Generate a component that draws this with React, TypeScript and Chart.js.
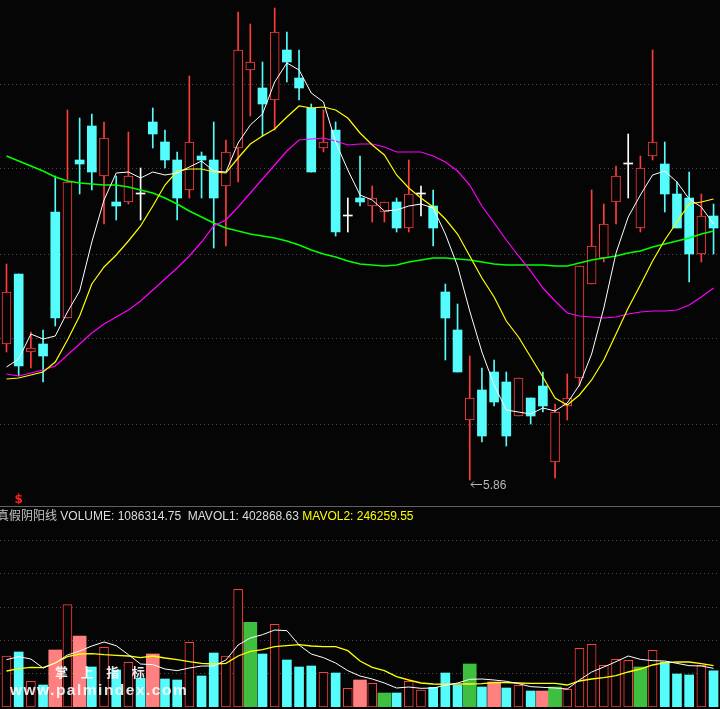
import React, { useEffect, useRef } from "react";
import { Chart, registerables } from "chart.js";

Chart.register(...registerables);

// ---------- price panel data (59 trading days) ----------
const opens = [6.54, 6.89, 6.5, 6.54, 7.2, 6.67, 7.46, 7.63, 7.38, 7.25, 7.25, 7.29, 7.65, 7.55, 7.46, 7.31, 7.48, 7.46, 7.33, 7.52, 7.91, 7.82, 7.76, 8.01, 7.87, 7.72, 7.52, 7.61, 7.18, 7.27, 7.23, 7.2, 7.25, 7.12, 7.29, 7.23, 6.8, 6.61, 6.16, 6.31, 6.4, 6.35, 6.18, 6.27, 6.33, 5.95, 6.23, 6.37, 6.84, 6.97, 7.25, 7.44, 7.12, 7.48, 7.44, 7.29, 7.27, 6.99, 7.18];
const highs = [6.94, 6.89, 6.6, 6.61, 7.38, 7.71, 7.67, 7.69, 7.65, 7.38, 7.6, 7.42, 7.72, 7.61, 7.5, 7.88, 7.5, 7.65, 7.56, 8.2, 8.14, 7.95, 8.22, 8.1, 8.01, 7.74, 7.71, 7.65, 7.27, 7.48, 7.33, 7.25, 7.27, 7.46, 7.33, 7.31, 6.84, 6.74, 6.48, 6.42, 6.46, 6.4, 6.37, 6.27, 6.4, 6.24, 6.39, 6.93, 7.31, 7.24, 7.43, 7.59, 7.48, 8.01, 7.55, 7.35, 7.4, 7.29, 7.24];
const lows = [6.5, 6.38, 6.42, 6.35, 6.63, 6.67, 7.29, 7.31, 7.14, 7.16, 7.24, 7.16, 7.52, 7.42, 7.16, 7.27, 7.27, 7.02, 7.03, 7.35, 7.68, 7.58, 7.61, 7.85, 7.76, 7.4, 7.5, 7.08, 7.1, 7.23, 7.15, 7.15, 7.1, 7.1, 7.18, 7.03, 6.46, 6.4, 5.86, 6.05, 6.23, 6.03, 6.18, 6.14, 6.2, 5.87, 6.16, 6.33, 6.84, 6.95, 7.14, 7.27, 7.1, 7.46, 7.2, 7.12, 6.85, 6.95, 6.99];
const closes = [6.8, 6.43, 6.52, 6.48, 6.67, 7.35, 7.44, 7.4, 7.57, 7.23, 7.38, 7.29, 7.59, 7.46, 7.27, 7.55, 7.46, 7.27, 7.5, 8.01, 7.95, 7.74, 8.1, 7.95, 7.82, 7.4, 7.55, 7.1, 7.18, 7.25, 7.27, 7.25, 7.12, 7.29, 7.29, 7.12, 6.67, 6.4, 6.27, 6.08, 6.25, 6.08, 6.37, 6.18, 6.23, 6.2, 6.27, 6.93, 7.03, 7.14, 7.38, 7.44, 7.42, 7.55, 7.29, 7.12, 6.99, 7.18, 7.12];

const ma5 = [6.425, 6.465, 6.59, 6.565, 6.58, 6.7, 6.805, 7.05, 7.26, 7.395, 7.4, 7.37, 7.4, 7.385, 7.395, 7.425, 7.455, 7.405, 7.4, 7.545, 7.635, 7.69, 7.85, 7.945, 7.91, 7.795, 7.75, 7.55, 7.41, 7.285, 7.26, 7.205, 7.21, 7.23, 7.24, 7.22, 7.09, 6.93, 6.705, 6.5, 6.335, 6.21, 6.2, 6.19, 6.22, 6.205, 6.245, 6.335, 6.49, 6.72, 6.995, 7.175, 7.285, 7.385, 7.405, 7.35, 7.265, 7.225, 7.14];
const ma10 = [6.365, 6.37, 6.385, 6.4, 6.45, 6.56, 6.68, 6.84, 6.925, 6.985, 7.055, 7.13, 7.23, 7.335, 7.405, 7.415, 7.415, 7.4, 7.395, 7.47, 7.54, 7.58, 7.615, 7.675, 7.73, 7.72, 7.725, 7.71, 7.67, 7.595, 7.535, 7.485, 7.385, 7.32, 7.27, 7.225, 7.165, 7.09, 6.98, 6.87, 6.775, 6.655, 6.575, 6.475, 6.375, 6.27, 6.235, 6.285, 6.36, 6.46, 6.59, 6.72, 6.835, 6.955, 7.06, 7.15, 7.24, 7.25, 7.265];
const ma20 = [6.39, 6.38, 6.395, 6.41, 6.43, 6.485, 6.54, 6.595, 6.64, 6.675, 6.71, 6.755, 6.81, 6.865, 6.92, 6.98, 7.05, 7.13, 7.16, 7.225, 7.295, 7.365, 7.435, 7.505, 7.56, 7.565, 7.57, 7.555, 7.535, 7.54, 7.54, 7.525, 7.5, 7.5, 7.5, 7.48, 7.45, 7.405, 7.335, 7.23, 7.145, 7.06, 6.98, 6.905, 6.82, 6.755, 6.695, 6.68, 6.675, 6.67, 6.675, 6.69, 6.7, 6.705, 6.705, 6.71, 6.735, 6.775, 6.82];
const ma60 = [7.48, 7.455, 7.43, 7.405, 7.375, 7.355, 7.345, 7.34, 7.335, 7.335, 7.325, 7.31, 7.295, 7.27, 7.24, 7.205, 7.175, 7.145, 7.12, 7.105, 7.09, 7.08, 7.07, 7.055, 7.035, 7.01, 6.99, 6.975, 6.955, 6.94, 6.935, 6.93, 6.935, 6.95, 6.96, 6.97, 6.97, 6.965, 6.96, 6.95, 6.94, 6.935, 6.935, 6.935, 6.935, 6.93, 6.93, 6.945, 6.96, 6.97, 6.98, 6.995, 7.005, 7.025, 7.04, 7.055, 7.07, 7.09, 7.105];

const priceGridLines = [7.84, 7.415, 6.99, 6.565, 6.14];
const priceMin = 5.73;
const priceMax = 8.26;
const signalIndex = 1;

// ---------- volume panel data ----------
const volumes = [1530000, 1650000, 770000, 660000, 1710000, 3070000, 2130000, 1200000, 1790000, 1110000, 1340000, 860000, 1590000, 840000, 810000, 1940000, 930000, 1620000, 1530000, 3530000, 2540000, 1590000, 2480000, 1410000, 1200000, 1230000, 1040000, 1020000, 560000, 810000, 710000, 420000, 420000, 770000, 510000, 590000, 1020000, 650000, 1290000, 600000, 750000, 570000, 650000, 480000, 480000, 600000, 530000, 1760000, 1880000, 1250000, 1430000, 1400000, 1200000, 1700000, 1350000, 990000, 960000, 1250000, 1086314.75];
// r = true yang (red outline), c = true yin (cyan), p = false yin (pink), g = false yang (green)
const volKinds = ["r", "c", "r", "c", "p", "r", "p", "c", "r", "c", "r", "c", "p", "c", "c", "r", "c", "c", "r", "r", "g", "c", "r", "c", "c", "c", "r", "c", "r", "p", "r", "g", "c", "r", "r", "c", "c", "c", "g", "c", "p", "c", "r", "c", "p", "g", "r", "r", "r", "r", "r", "r", "g", "r", "c", "c", "c", "r", "c"];
const mavol1 = [1420000, 1510000, 1440000, 1170000, 1320000, 1560000, 1680000, 1830000, 1950000, 1840000, 1570000, 1290000, 1270000, 1140000, 1090000, 1170000, 1230000, 1230000, 1410000, 1860000, 2070000, 2170000, 2310000, 2290000, 1860000, 1590000, 1480000, 1320000, 1090000, 930000, 840000, 720000, 570000, 600000, 560000, 570000, 650000, 720000, 830000, 840000, 810000, 770000, 700000, 610000, 590000, 570000, 540000, 810000, 1050000, 1200000, 1360000, 1530000, 1430000, 1390000, 1380000, 1310000, 1240000, 1230000, 1160000];
const mavol2 = [1080000, 1150000, 1190000, 1180000, 1320000, 1510000, 1590000, 1600000, 1570000, 1550000, 1530000, 1480000, 1530000, 1470000, 1420000, 1360000, 1310000, 1290000, 1310000, 1530000, 1670000, 1720000, 1810000, 1840000, 1870000, 1830000, 1810000, 1810000, 1690000, 1380000, 1190000, 1090000, 910000, 810000, 720000, 690000, 680000, 690000, 690000, 700000, 730000, 730000, 720000, 710000, 710000, 710000, 660000, 780000, 840000, 880000, 940000, 1050000, 1140000, 1260000, 1330000, 1350000, 1350000, 1300000, 1240000];
const volGridLines = [1000000, 2000000, 3000000, 4000000, 5000000];
const volMax = 6000000;
const MAVOL1_TEXT = "402868.63";
const MAVOL2_TEXT = "246259.55";

// ---------- styling ----------
const BG = "#050505";
const RED = "#ff3c3c";
const CYAN = "#55fcfc";
const WHITE = "#ffffff";
const PINK = "#ff8080";
const GREEN_BAR = "#3fbf3f";
const GRID = "#4a4a4a";
const X_MIN = -0.533;
const X_MAX = 58.53;

const idx = opens.map((_, i) => i);
const kindOf = (i: number) => (closes[i] > opens[i] ? "up" : closes[i] < opens[i] ? "down" : "doji");
const candleColor = (i: number) => (kindOf(i) === "up" ? RED : kindOf(i) === "down" ? CYAN : WHITE);

const lowLabelPlugin = {
  id: "lowLabel",
  afterDatasetsDraw(chart: any) {
    const { ctx, scales } = chart;
    const x = scales.x;
    const y = scales.y;
    let mi = 0;
    lows.forEach((v, i) => {
      if (v < lows[mi]) mi = i;
    });
    const px = Math.round(x.getPixelForValue(mi));
    const py = y.getPixelForValue(lows[mi]);
    const ay = Math.round(py + 4) + 0.5;
    ctx.save();
    ctx.strokeStyle = "#b8b8b8";
    ctx.fillStyle = "#b8b8b8";
    ctx.lineWidth = 1;
    ctx.beginPath();
    ctx.moveTo(px + 1, ay);
    ctx.lineTo(px + 12, ay);
    ctx.moveTo(px + 1, ay);
    ctx.lineTo(px + 4, ay - 3);
    ctx.moveTo(px + 1, ay);
    ctx.lineTo(px + 4, ay + 3);
    ctx.stroke();
    ctx.font = '12px "Liberation Sans", Arial, sans-serif';
    ctx.textBaseline = "middle";
    ctx.textAlign = "left";
    ctx.fillText(lows[mi].toFixed(2), px + 13, ay + 1);
    ctx.fillStyle = "#ff2020";
    ctx.font = 'bold 12px "DejaVu Sans", sans-serif';
    ctx.textAlign = "center";
    ctx.textBaseline = "bottom";
    ctx.fillText("$", x.getPixelForValue(signalIndex), chart.height);
    ctx.restore();
  },
};

const lineDs = (values: number[], color: string, width: number, order: number) => ({
  type: "line",
  data: idx.map((i) => ({ x: i, y: values[i] })),
  borderColor: color,
  borderWidth: width,
  pointRadius: 0,
  tension: 0,
  order,
});

function PriceChart() {
  const ref = useRef<HTMLCanvasElement | null>(null);
  useEffect(() => {
    if (!ref.current) return;
    const chart = new Chart(ref.current, {
      type: "bar",
      data: {
        datasets: [
          lineDs(ma5, WHITE, 1, 1),
          lineDs(ma10, "#ffff00", 1.2, 2),
          lineDs(ma20, "#ff00ff", 1.2, 3),
          lineDs(ma60, "#00ff00", 1.6, 4),
          {
            type: "bar",
            data: idx.map((i) => ({ x: i, y: [Math.min(opens[i], closes[i]), Math.max(opens[i], closes[i])] })),
            backgroundColor: idx.map((i) => (kindOf(i) === "up" ? BG : candleColor(i))),
            borderColor: idx.map((i) => candleColor(i)),
            borderWidth: idx.map((i) => (kindOf(i) === "up" ? 1 : 0)),
            borderSkipped: false,
            barThickness: 9,
            minBarLength: 1,
            grouped: false,
            order: 8,
          },
          {
            type: "bar",
            data: idx.map((i) => ({ x: i, y: [lows[i], highs[i]] })),
            backgroundColor: idx.map((i) => candleColor(i)),
            borderWidth: 0,
            barThickness: 1,
            grouped: false,
            order: 9,
          },
        ] as any,
      },
      options: {
        responsive: false,
        animation: false,
        maintainAspectRatio: false,
        layout: { padding: 0 },
        plugins: { legend: { display: false }, tooltip: { enabled: false } },
        scales: {
          x: { type: "linear", min: X_MIN, max: X_MAX, offset: false, display: false },
          y: {
            type: "linear",
            min: priceMin,
            max: priceMax,
            display: true,
            afterBuildTicks: (s: any) => {
              s.ticks = priceGridLines.map((v) => ({ value: v }));
            },
            ticks: { display: false },
            grid: { color: GRID, drawTicks: false, lineWidth: 1 },
            border: { display: false, dash: [1, 3] },
          },
        },
      } as any,
      plugins: [lowLabelPlugin],
    });
    return () => chart.destroy();
  }, []);
  return <canvas ref={ref} width={720} height={506} style={{ position: "absolute", left: 0, top: 0, width: 720, height: 506 }} />;
}

function VolumeChart() {
  const ref = useRef<HTMLCanvasElement | null>(null);
  useEffect(() => {
    if (!ref.current) return;
    const narrow = idx.filter((i) => volKinds[i] === "r" || volKinds[i] === "c");
    const wide = idx.filter((i) => volKinds[i] === "p" || volKinds[i] === "g");
    const chart = new Chart(ref.current, {
      type: "bar",
      data: {
        datasets: [
          lineDs(mavol1, WHITE, 1, 1),
          lineDs(mavol2, "#ffff00", 1.3, 2),
          {
            type: "bar",
            data: narrow.map((i) => ({ x: i, y: volumes[i] })),
            backgroundColor: narrow.map((i) => (volKinds[i] === "r" ? BG : CYAN)),
            borderColor: narrow.map((i) => (volKinds[i] === "r" ? RED : CYAN)),
            borderWidth: narrow.map((i) => (volKinds[i] === "r" ? 1 : 0)),
            borderSkipped: false,
            barThickness: 9,
            grouped: false,
            order: 8,
          },
          {
            type: "bar",
            data: wide.map((i) => ({ x: i, y: volumes[i] })),
            backgroundColor: wide.map((i) => (volKinds[i] === "p" ? PINK : GREEN_BAR)),
            borderWidth: 0,
            barThickness: 13,
            grouped: false,
            order: 9,
          },
        ] as any,
      },
      options: {
        responsive: false,
        animation: false,
        maintainAspectRatio: false,
        layout: { padding: { left: 0, right: 0, top: 0, bottom: 2 } },
        plugins: { legend: { display: false }, tooltip: { enabled: false } },
        scales: {
          x: { type: "linear", min: X_MIN, max: X_MAX, offset: false, display: false },
          y: {
            type: "linear",
            min: 0,
            max: volMax,
            display: true,
            afterBuildTicks: (s: any) => {
              s.ticks = volGridLines.map((v) => ({ value: v }));
            },
            ticks: { display: false },
            grid: { color: GRID, drawTicks: false, lineWidth: 1 },
            border: { display: false, dash: [1, 3] },
          },
        },
      } as any,
    });
    return () => chart.destroy();
  }, []);
  return <canvas ref={ref} width={720} height={202} style={{ position: "absolute", left: 0, top: 507, width: 720, height: 202 }} />;
}

export default function App() {
  const lastVol = volumes[volumes.length - 1].toFixed(2);
  return (
    <div
      style={{
        position: "absolute",
        left: 0,
        top: 0,
        width: 720,
        height: 709,
        overflow: "hidden",
        background: BG,
        fontFamily: '"Liberation Sans", Arial, "Noto Sans CJK SC", sans-serif',
      }}
    >
      <PriceChart />
      <div style={{ position: "absolute", left: 0, top: 506, width: 720, height: 1, background: "#626262" }} />
      <VolumeChart />
      <div
        style={{
          position: "absolute",
          left: -3,
          top: 507,
          fontSize: 12,
          lineHeight: "16px",
          color: "#dedede",
          whiteSpace: "pre",
        }}
      >
        <span style={{ fontFamily: '"Noto Sans CJK SC", sans-serif', color: "#c4c4c4" }}>真假阴阳线</span>
        {` VOLUME: ${lastVol}  MAVOL1: ${MAVOL1_TEXT} `}
        <span style={{ color: "#ffff00" }}>{`MAVOL2: ${MAVOL2_TEXT}`}</span>
      </div>
      <div
        style={{
          position: "absolute",
          left: 55,
          top: 665,
          fontSize: 13,
          fontWeight: "bold",
          letterSpacing: 12.6,
          color: "rgba(255,255,255,0.92)",
          fontFamily: '"Noto Sans CJK SC", sans-serif',
          whiteSpace: "pre",
          lineHeight: "14px",
        }}
      >
        掌上指标
      </div>
      <div
        style={{
          position: "absolute",
          left: 10,
          top: 681,
          fontSize: 15.5,
          fontWeight: "bold",
          letterSpacing: 1.5,
          color: "rgba(255,255,255,0.88)",
          whiteSpace: "pre",
          lineHeight: "17px",
          fontFamily: '"Liberation Sans", Arial, sans-serif',
        }}
      >
        www.palmindex.com
      </div>
    </div>
  );
}
